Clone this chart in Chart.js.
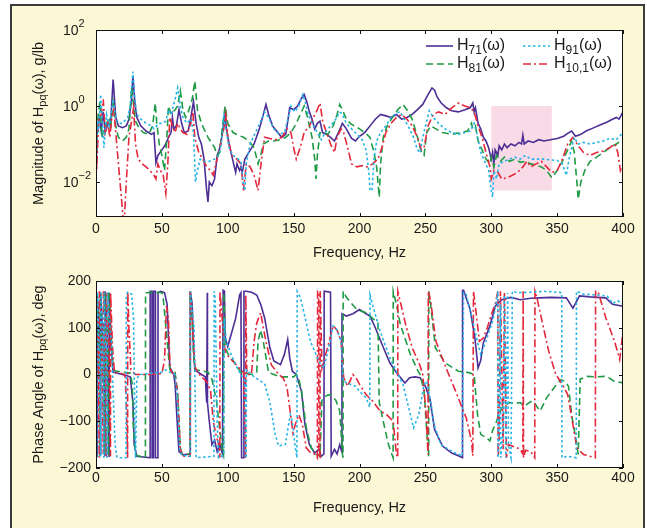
<!DOCTYPE html>
<html>
<head>
<meta charset="utf-8">
<script src="https://cdn.jsdelivr.net/npm/chart.js@4.4.1/dist/chart.umd.min.js"></script>
<style>
  html, body { margin: 0; padding: 0; background: #fff; width: 647px; height: 528px; overflow: hidden; }
  #panel { position: absolute; left: 10px; top: 4px; width: 631px; height: 600px; background: #fcf8d6; border: 2px solid #3c3c3c; }
  canvas { position: absolute; left: 0; }
  #mag { top: 0; }
  #phase { top: 264px; }
</style>
</head>
<body>
<div id="panel"></div>
<canvas id="mag" width="647" height="264"></canvas>
<canvas id="phase" width="647" height="264"></canvas>
<script>
Chart.defaults.font.family = "'Liberation Sans', Arial, sans-serif"
Chart.defaults.font.size = 14
Chart.defaults.color = '#1a1a1a'

// axes
const freqMin = 0
const freqMax = 400
const magMin = 0.0012
const magMax = 100
const magTicks = [0.01, 1, 100]
const phaseMin = -200
const phaseMax = 200

// highlighted band on the magnitude plot
const shadeFreq = [300, 346]
const shadeMag = [0.006, 1]

// response subscripts, in legend order: H71, H81, H91, H10,1
const seriesSubs = ['71', '81', '91', '10,1']

// magnitude, [Hz, g/lb]
const h71Mag = [[0,0.02],[1,0.3],[2.5,0.5],[4,0.22],[5.5,0.7],[7,0.2],[9,0.35],[11,0.3],[13,5.0],[15,0.5],[17,0.3],[20,0.27],[23,0.3],[25,0.45],[27,1.5],[28,6.0],[29.5,1.2],[31,0.5],[34,0.3],[38,0.22],[42,0.18],[44,0.2],[45.5,0.032],[47,0.05],[50,0.07],[53,0.1],[55,0.15],[57,0.2],[58,0.5],[59,0.25],[61,0.3],[63,0.8],[65,0.35],[67,0.2],[70,0.22],[72,0.5],[74,1.3],[76,0.35],[78,0.15],[80,0.1],[82,0.04],[84,0.006],[85,0.003],[86,0.01],[88,0.008],[90,0.012],[92,0.05],[94,0.08],[96,0.2],[98,0.6],[99,0.25],[101,0.1],[103,0.05],[105,0.025],[106,0.018],[107,0.03],[109,0.02],[110,0.025],[111,0.018],[113,0.04],[116,0.06],[120,0.1],[124,0.25],[127,0.6],[129,1.1],[131,0.6],[134,0.3],[138,0.2],[141,0.15],[144,0.18],[146,0.5],[147,0.9],[150,0.8],[153,1.0],[156,1.6],[158,2.0],[160,1.3],[162,0.7],[164,0.45],[166,0.25],[168,0.35],[170,0.4],[172,0.2],[175,0.18],[178,0.15],[181,0.12],[184,0.2],[187,0.35],[190,0.25],[194,0.14],[197,0.12],[200,0.16],[204,0.2],[208,0.3],[212,0.45],[216,0.6],[220,0.55],[224,0.5],[228,0.6],[232,0.45],[236,0.5],[240,0.6],[244,0.8],[248,1.1],[252,2.0],[255,3.0],[257,2.6],[259,1.7],[262,1.2],[266,0.9],[270,0.75],[275,0.7],[280,0.8],[284,0.9],[286,1.2],[287,0.7],[288,0.9],[290,0.35],[292,0.25],[294,0.15],[296,0.12],[298,0.08],[300,0.04],[301,0.06],[302,0.03],[303,0.07],[305,0.05],[306,0.09],[308,0.07],[310,0.1],[312,0.08],[315,0.1],[318,0.09],[321,0.11],[323,0.1],[324,0.17],[325,0.1],[328,0.12],[332,0.11],[336,0.13],[340,0.12],[345,0.13],[350,0.14],[355,0.16],[358,0.19],[361,0.22],[364,0.16],[368,0.18],[372,0.22],[378,0.27],[383,0.32],[388,0.38],[392,0.45],[395,0.5],[397,0.45],[400,0.7]]
const h81Mag = [[0,0.015],[1,0.3],[2,0.8],[3,1.3],[4.5,0.15],[6,0.25],[8,0.35],[10,0.5],[11,0.25],[13,1.2],[15,0.3],[17,0.15],[20,0.12],[23,0.15],[25,0.25],[27,3.0],[28,1.5],[30,0.4],[33,0.25],[36,0.2],[40,0.18],[43,0.3],[45,1.2],[46,0.4],[48,0.1],[50,0.05],[52,0.02],[54,0.2],[55,1.0],[57,0.6],[60,0.8],[62,1.0],[64,2.5],[66,0.8],[68,0.5],[70,0.7],[73,1.5],[75,4.5],[77,0.8],[80,0.35],[85,0.15],[90,0.08],[92,0.05],[94,0.06],[96,0.3],[98,1.0],[100,0.35],[104,0.2],[108,0.17],[112,0.15],[116,0.12],[120,0.08],[123,0.03],[125,0.05],[127,0.1],[131,0.12],[135,0.12],[140,0.13],[144,0.15],[148,0.2],[152,0.35],[156,0.7],[158,1.0],[160,0.6],[162,0.3],[164,0.15],[166,0.04],[167,0.012],[168,0.05],[170,0.2],[173,0.2],[176,0.18],[180,0.3],[183,0.6],[185,1.1],[187,0.8],[190,0.45],[193,0.35],[196,0.3],[200,0.25],[204,0.2],[208,0.15],[211,0.06],[213,0.025],[215,0.004],[216,0.03],[218,0.15],[221,0.3],[225,0.5],[229,0.8],[233,1.1],[236,0.8],[240,0.45],[244,0.15],[247,0.06],[249,0.05],[251,0.2],[254,0.3],[258,0.25],[263,0.2],[270,0.18],[277,0.2],[282,0.22],[285,0.35],[286,0.25],[288,0.3],[290,0.12],[293,0.07],[296,0.04],[299,0.03],[300,0.045],[302,0.025],[304,0.05],[307,0.035],[310,0.045],[314,0.035],[318,0.04],[322,0.033],[326,0.035],[330,0.03],[334,0.028],[338,0.025],[342,0.02],[346,0.013],[350,0.02],[354,0.035],[358,0.07],[361,0.12],[363,0.06],[365,0.01],[366,0.0035],[368,0.01],[371,0.02],[375,0.035],[380,0.045],[385,0.06],[390,0.08],[395,0.1],[400,0.13]]
const h91Mag = [[0,0.015],[1,0.4],[2,0.2],[3.5,2.0],[5,0.3],[6,0.08],[8,0.6],[10,0.3],[12,0.8],[13,1.5],[15,0.5],[17,0.35],[20,0.35],[24,0.5],[26,1.0],[28,8.0],[29.5,1.5],[31,0.6],[34,0.45],[38,0.35],[42,0.3],[44,0.25],[46,0.3],[48,0.35],[50,0.35],[53,0.4],[55,0.8],[57,0.6],[60,1.5],[62,3.0],[64,1.0],[66,0.5],[69,0.35],[72,0.45],[74,0.2],[75.5,0.01],[77,0.02],[79,0.04],[82,0.035],[86,0.035],[90,0.04],[93,0.05],[95,0.1],[97,0.5],[99,0.2],[101,0.08],[104,0.05],[108,0.04],[110,0.035],[112,0.008],[113,0.006],[114,0.03],[117,0.1],[121,0.2],[125,0.4],[128,0.7],[131,0.5],[135,0.25],[139,0.18],[143,0.2],[146,0.5],[148,1.0],[151,0.7],[154,1.0],[157,2.0],[159,1.2],[161,0.6],[164,0.35],[168,0.2],[171,0.13],[174,0.2],[178,0.3],[182,0.45],[185,0.7],[187,0.6],[190,0.35],[194,0.25],[198,0.18],[202,0.13],[205,0.07],[207,0.02],[208,0.006],[209.5,0.006],[211,0.04],[213,0.12],[216,0.2],[220,0.3],[224,0.5],[228,0.65],[231,0.7],[234,0.45],[238,0.25],[241,0.15],[244,0.07],[246,0.06],[248,0.15],[251,0.4],[253,0.75],[256,0.5],[260,0.35],[265,0.25],[270,0.2],[275,0.18],[280,0.2],[284,0.22],[287,0.35],[289,0.2],[292,0.06],[295,0.035],[298,0.02],[300,0.006],[301,0.004],[302,0.02],[304,0.012],[306,0.03],[310,0.035],[314,0.04],[318,0.045],[322,0.04],[326,0.05],[330,0.04],[335,0.04],[340,0.04],[345,0.038],[350,0.037],[354,0.03],[357,0.015],[359,0.04],[361,0.08],[363,0.15],[366,0.1],[370,0.11],[375,0.1],[380,0.11],[385,0.12],[390,0.14],[395,0.13],[400,0.2]]
const h101Mag = [[0,4.5],[0.5,0.02],[2,0.4],[4,0.6],[5.5,1.5],[7,0.2],[9,0.35],[10.5,0.15],[12,0.5],[13.5,0.8],[15,0.2],[17,0.03],[19,0.005],[20.5,0.0012],[21.5,0.001],[23,0.01],[25,0.15],[27,0.4],[28.5,0.9],[30,0.1],[32,0.04],[35,0.03],[38,0.025],[41,0.02],[44,0.015],[45.5,0.012],[47,0.03],[49,0.02],[51,0.015],[53,0.005],[54.5,0.03],[56,0.5],[58,0.3],[60,0.2],[62,0.35],[64,0.25],[66,0.2],[69,0.18],[72,0.35],[73.5,0.7],[75,0.15],[78,0.06],[81,0.04],[84,0.025],[87,0.02],[89,0.015],[91,0.03],[94,0.08],[97,0.25],[98.5,0.6],[100,0.15],[103,0.05],[107,0.04],[110,0.03],[112,0.006],[114,0.03],[117,0.025],[120,0.015],[123,0.006],[126,0.05],[128,0.15],[132,0.14],[137,0.13],[141,0.15],[145,0.25],[148,0.2],[150,0.08],[152,0.04],[155,0.08],[158,0.2],[162,0.3],[165,0.5],[168,0.8],[170,1.2],[172,0.4],[175,0.2],[178,0.1],[181,0.06],[183,0.15],[186,0.25],[188,0.2],[191,0.08],[194,0.03],[198,0.025],[202,0.027],[206,0.025],[210,0.03],[214,0.04],[217,0.08],[220,0.2],[224,0.35],[228,0.5],[232,0.6],[236,0.45],[240,0.3],[244,0.15],[247,0.07],[249,0.08],[252,0.3],[256,0.6],[260,0.7],[265,0.6],[270,0.9],[275,1.2],[280,1.0],[284,0.9],[287,0.7],[290,0.3],[293,0.15],[296,0.06],[299,0.025],[300,0.012],[302,0.02],[305,0.018],[308,0.012],[312,0.013],[316,0.015],[320,0.018],[324,0.025],[327,0.035],[330,0.025],[334,0.03],[338,0.035],[342,0.025],[346,0.018],[350,0.02],[354,0.04],[358,0.1],[362,0.15],[366,0.09],[370,0.06],[375,0.05],[380,0.06],[385,0.065],[390,0.08],[394,0.1],[396,0.06],[398,0.02],[400,0.03]]

// phase angle, [Hz, deg]
const h71Phase = [[0,170],[0.8,-175],[1,175],[2.5,80],[3.5,-170],[3.6,175],[5.5,60],[6.8,-175],[6.9,178],[8.5,90],[10,-175],[10.1,175],[11.5,60],[13,5],[20,0],[26,-5],[28,-60],[29,-150],[31,-175],[41,-178],[41.1,178],[42.5,178],[42.6,-178],[43.5,-178],[43.6,178],[45,178],[45.1,-178],[47,-178],[47.1,175],[49,178],[52,175],[54,150],[55,80],[56,15],[59,0],[60,-20],[62,-120],[63,-165],[66,-172],[71.5,-170],[71.6,178],[73,150],[74,60],[75,10],[80,0],[83,-5],[84,-60],[84.5,175],[84.6,-60],[86,-100],[88,-150],[90,-140],[92,-165],[94,-150],[96,-170],[96.5,180],[97.5,178],[98,80],[100,60],[103,90],[106,120],[109,170],[110,175],[110.5,-178],[112,-178],[112.3,178],[114,178],[118,176],[122,170],[125,150],[128,121],[132,57],[135,29],[140,21],[143,43],[145.5,75],[147,36],[149,7],[152,0],[156,-36],[158.6,-107],[162,-150],[166,-168],[169,-160],[171,-175],[173,-170],[173.2,178],[178,176],[178.5,-175],[181,-160],[183,-170],[185,-150],[186.5,-165],[186.7,130],[190,125],[195,130],[200,139],[205,130],[208,125],[212,100],[215.6,75],[220,45],[223,25],[228,4],[234.5,-18],[238,-7],[242,-5],[246,-7],[250,-25],[253.5,-53],[257,-118],[263,-153],[270,-168],[276,-175],[278,-178],[278.2,180],[279,180],[284,139],[287.7,75],[290,14],[292,30],[294,68],[299,104],[303,146],[308,160],[315,165],[322,160],[330,163],[337,164],[345,165],[357,164],[362,142],[367,168],[375,166],[387,164],[392,150],[396,148],[400,146]]
const h81Phase = [[0,-170],[0.5,175],[2,100],[3,-175],[3.1,175],[5,20],[6.5,-170],[6.6,178],[8,120],[9.5,-175],[9.6,178],[11,120],[12.5,30],[14,8],[20,5],[26,3],[27.5,-20],[28.5,-120],[30,-172],[37.5,-178],[37.6,175],[45,176],[50,175],[51,164],[54,71],[56,11],[60,5],[62,-40],[64,-157],[65.5,-171],[71.4,-170],[71.5,178],[73,120],[74,40],[75.5,10],[80,8],[85,5],[88,-10],[91.5,-57],[94,-120],[96,-165],[96.8,-172],[97,175],[98,60],[100,45],[104,30],[110,4],[118,0],[122,5],[123,71],[125,95],[127,70],[131,4],[140,-5],[150,-5],[152,0],[154,-10],[156,-36],[159.6,-114],[163.4,-157],[167,-171],[170,-175],[171.5,-55],[175,-45],[178,-43],[182,-55],[185,-78],[187,-170],[187.5,-178],[187.6,178],[190,165],[198,139],[205,132],[210,120],[214,110],[215,-60],[218,-100],[222,-150],[225.5,-178],[225.6,178],[228,150],[231,107],[238.6,43],[244,10],[246,0],[249,-36],[251,-120],[252.5,-175],[252.6,178],[254,150],[257.6,57],[265,25],[275,7],[283,4],[287,0],[289.6,-86],[292,-128],[296,-135],[299,-142],[301,-120],[304,-100],[306,-85],[308,-71],[311,-65],[314,-60],[318,-62],[322,-60],[325,-68],[327,-64],[330,-58],[332,-57],[335,-70],[337,-78],[340,-62],[342,-50],[346,-35],[349.6,-21],[353,-11],[356,-15],[358.6,-25],[361,-86],[364,-135],[366,-171],[367.5,-10],[373,-4],[380,-5],[386,-4],[390,-8],[393,-14],[400,-18]]
const h91Phase = [[0,170],[0.5,-178],[1,176],[2.5,50],[3.5,-175],[3.6,176],[5,100],[6,-178],[6.1,175],[7.5,60],[8.5,-178],[8.6,175],[10,120],[12,60],[13,-40],[14.5,-150],[16,-178],[22.8,-178],[23,170],[24,176],[27,172],[28.5,120],[29.5,-100],[30,-178],[30.5,-100],[31,-10],[33,0],[40,2],[50,5],[53,10],[56,5],[60,0],[62,-60],[63.5,-160],[65,-172],[71.5,-175],[71.7,178],[73,140],[74.5,100],[76,-178],[89.5,-175],[89.7,178],[90.5,160],[92,-100],[93,-178],[97,-172],[97.3,120],[99,70],[103,40],[107,15],[111,-5],[113,-14],[113.5,-178],[114,-178],[114.2,10],[120,-5],[125,-14],[128,-20],[132,-60],[136,-128],[138.6,-153],[143.7,-150],[146,-110],[147.5,-86],[149,-100],[151,-150],[152.5,-178],[152.7,178],[155,165],[157.6,136],[162.7,71],[168,36],[171,20],[173,14],[176,50],[180,104],[183,95],[186,71],[187.7,-14],[192,-20],[197,-25],[200,-36],[205,-50],[207.8,-70],[208,170],[210.5,143],[215.6,93],[223,36],[228,7],[233,-21],[238.6,-86],[241,-114],[245,-86],[249,-21],[251,-14],[254,-57],[256.6,-107],[261.7,-150],[271.8,-167],[278,-174],[279,175],[281,171],[286,114],[290,64],[292,43],[296,71],[301,114],[303,140],[305,178],[305.2,-178],[306,-100],[307,150],[307.2,-178],[309,-120],[310,170],[311,-178],[312.5,175],[313,-150],[315,-178],[316,178],[320,175],[330,176],[340,178],[350,176],[353.5,175],[353.7,-178],[358,-175],[364.5,-178],[364.7,178],[370,172],[380,170],[388,168],[392,152],[396,158],[400,150]]
const h101Phase = [[0,-175],[0.3,178],[1.5,80],[2.5,-178],[2.6,178],[4.5,60],[5.5,-170],[5.6,178],[7,100],[8,-178],[8.1,175],[9.5,120],[11,-175],[11.1,175],[12.5,60],[14,5],[18,3],[22,0],[23,-60],[24,-178],[24.1,178],[25,100],[26.5,10],[30,0],[40,0],[50,2],[52,30],[53.5,146],[55,120],[56,30],[57,5],[60,0],[62,-40],[64,-160],[66,-175],[71.5,-175],[71.6,178],[73,120],[75,20],[76,10],[80,-5],[84,-15],[87,-36],[89,-100],[91,-128],[93,-150],[94,-178],[94.1,178],[96,110],[98,50],[100,40],[105,25],[110,10],[112,5],[113.5,-178],[113.7,170],[114.5,0],[118,0],[120,71],[122,110],[125,132],[127,100],[129,71],[133,21],[138.6,0],[142,-7],[145,-28],[148,-93],[149.5,-125],[152,-100],[154,-86],[156.6,-107],[159.6,-157],[163,-168],[166.6,-171],[168,-178],[168.2,178],[169,178],[169.2,-178],[170,-178],[170.2,178],[171.5,14],[176,60],[180,104],[183,95],[186,71],[188,-7],[191,-25],[195,0],[198,-10],[200,-21],[205,-43],[210,-57],[215.6,-78],[220.6,-86],[225.6,-100],[228,-171],[229,-178],[229.1,178],[235,107],[240,57],[245.7,21],[248,0],[250.6,-86],[252,-171],[252.2,178],[254,157],[258,71],[265.7,14],[273,-36],[281,-93],[285,-142],[286,-174],[286.5,178],[287.5,157],[291,71],[294,78],[297,100],[301,136],[303,150],[305,178],[305.2,-178],[306,-140],[307,178],[309,-160],[310,175],[311.5,-178],[313,-150],[318,-155],[322,-160],[324,-170],[324.2,178],[324.5,-178],[326,-162],[330,-165],[333,-178],[333.2,178],[335,160],[338,121],[343.6,50],[349,0],[354,-21],[358,-43],[362,-107],[365,-157],[370,-171],[379,-178],[379.2,178],[381,178],[387,121],[393.6,71],[397.5,32],[400,93]]

// line look per response: colour, dash, draw order (lower = on top)
const lineStyles = [
  { color: '#4c2e95', dash: [], order: 4 },
  { color: '#1f9a45', dash: [7, 4], order: 3 },
  { color: '#26b4e6', dash: [2.5, 2.5], order: 1 },
  { color: '#e3283c', dash: [8, 3, 2, 3], order: 2 }
]

function lineSet(i, pairs) {
  return {
    label: 'H' + seriesSubs[i] + '(ω)',
    data: pairs.map(p => ({ x: p[0], y: p[1] })),
    borderColor: lineStyles[i].color,
    borderDash: lineStyles[i].dash,
    borderWidth: 1.6,
    pointRadius: 0,
    fill: false,
    tension: 0,
    order: lineStyles[i].order
  }
}

// text with a subscript part, e.g. H + "pq" + "(ω), g/lb"
function subText(ctx, x, y, head, sub, tail, size, subSize, drop) {
  ctx.font = size + "px 'Liberation Sans', Arial, sans-serif"
  ctx.fillText(head, x, y)
  x += ctx.measureText(head).width
  ctx.font = subSize + "px 'Liberation Sans', Arial, sans-serif"
  ctx.fillText(sub, x, y + drop)
  x += ctx.measureText(sub).width
  ctx.font = size + "px 'Liberation Sans', Arial, sans-serif"
  ctx.fillText(tail, x, y)
  return x + ctx.measureText(tail).width
}

function subTextWidth(ctx, head, sub, tail, size, subSize) {
  ctx.font = size + "px 'Liberation Sans', Arial, sans-serif"
  let w = ctx.measureText(head).width + ctx.measureText(tail).width
  ctx.font = subSize + "px 'Liberation Sans', Arial, sans-serif"
  return w + ctx.measureText(sub).width
}

function yTitle(chart, head, tail) {
  const ctx = chart.ctx
  const { top, bottom } = chart.chartArea
  const w = subTextWidth(ctx, head, 'pq', tail, 14.5, 11)
  ctx.save()
  ctx.translate(39, (top + bottom) / 2)
  ctx.rotate(-Math.PI / 2)
  ctx.fillStyle = '#1a1a1a'
  ctx.textBaseline = 'middle'
  ctx.textAlign = 'left'
  subText(ctx, -w / 2, 0, head, 'pq', tail, 14.5, 11, 4)
  ctx.restore()
}

// white plot box, outline and inward tick marks
function frame(yValues) {
  return {
    id: 'frame',
    beforeDatasetsDraw(chart) {
      const { ctx, chartArea: a } = chart
      ctx.save()
      ctx.fillStyle = '#fff'
      ctx.fillRect(a.left, a.top, a.right - a.left, a.bottom - a.top)
      ctx.restore()
    },
    afterDatasetsDraw(chart) {
      const { ctx, chartArea: a, scales } = chart
      ctx.save()
      ctx.strokeStyle = '#111'
      ctx.lineWidth = 1
      ctx.strokeRect(a.left + 0.5, a.top + 0.5, a.right - a.left - 1, a.bottom - a.top - 1)
      ctx.beginPath()
      scales.x.ticks.forEach(t => {
        const px = Math.round(scales.x.getPixelForValue(t.value)) + 0.5
        ctx.moveTo(px, a.bottom); ctx.lineTo(px, a.bottom - 4)
        ctx.moveTo(px, a.top); ctx.lineTo(px, a.top + 4)
      })
      yValues(chart).forEach(v => {
        const py = Math.round(scales.y.getPixelForValue(v)) + 0.5
        ctx.moveTo(a.left, py); ctx.lineTo(a.left + 4, py)
        ctx.moveTo(a.right, py); ctx.lineTo(a.right - 4, py)
      })
      ctx.stroke()
      ctx.restore()
    }
  }
}

const shade = {
  id: 'shade',
  beforeDatasetsDraw(chart) {
    const { ctx, scales } = chart
    const x1 = scales.x.getPixelForValue(shadeFreq[0])
    const x2 = scales.x.getPixelForValue(shadeFreq[1])
    const y1 = scales.y.getPixelForValue(shadeMag[1])
    const y2 = scales.y.getPixelForValue(shadeMag[0])
    ctx.save()
    ctx.fillStyle = '#f8dbe6'
    ctx.fillRect(x1, y1, x2 - x1, y2 - y1)
    ctx.restore()
  }
}

// log axis labels as 10 with a raised exponent
const powerLabels = {
  id: 'powerLabels',
  afterDraw(chart) {
    const ctx = chart.ctx
    ctx.save()
    ctx.fillStyle = '#1a1a1a'
    ctx.textBaseline = 'middle'
    ctx.textAlign = 'left'
    magTicks.forEach(v => {
      const py = chart.scales.y.getPixelForValue(v)
      const e = Math.round(Math.log10(v))
      ctx.font = "14px 'Liberation Sans', Arial, sans-serif"
      ctx.fillText('10', 63, py + 1)
      const w = ctx.measureText('10').width
      ctx.font = "11px 'Liberation Sans', Arial, sans-serif"
      ctx.fillText(String(e).replace('-', '−'), 63 + w, py - 6)
    })
    ctx.restore()
  }
}

const magLegend = {
  id: 'magLegend',
  afterDraw(chart) {
    const ctx = chart.ctx
    const cols = [426, 523]
    const rows = [46, 64]
    const place = [[0, 0], [0, 1], [1, 0], [1, 1]]
    ctx.save()
    seriesSubs.forEach((sub, i) => {
      const x = cols[place[i][0]]
      const y = rows[place[i][1]]
      ctx.strokeStyle = lineStyles[i].color
      ctx.lineWidth = 1.6
      ctx.setLineDash(lineStyles[i].dash)
      ctx.beginPath()
      ctx.moveTo(x, y)
      ctx.lineTo(x + 27, y)
      ctx.stroke()
      ctx.fillStyle = '#1a1a1a'
      ctx.textBaseline = 'middle'
      ctx.textAlign = 'left'
      subText(ctx, x + 31, y, 'H', sub, '(ω)', 16, 12, 5)
    })
    ctx.restore()
  }
}

const magTitle = { id: 'magTitle', afterDraw(chart) { yTitle(chart, 'Magnitude of H', '(ω), g/lb') } }
const phaseTitle = { id: 'phaseTitle', afterDraw(chart) { yTitle(chart, 'Phase Angle of H', '(ω), deg') } }

function freqAxis(height, pad, titlePad) {
  return {
    type: 'linear',
    min: freqMin,
    max: freqMax,
    grid: { display: false, drawTicks: false },
    border: { display: false },
    ticks: { stepSize: 50, padding: pad, maxRotation: 0, autoSkip: false },
    title: { display: true, text: 'Frequency, Hz', font: { size: 14.5 }, padding: { top: 0, bottom: titlePad } },
    afterFit(s) { s.height = height; s.paddingLeft = 0; s.paddingRight = 0 }
  }
}

const magChart = new Chart(document.getElementById('mag'), {
  type: 'line',
  data: { datasets: [lineSet(0, h71Mag), lineSet(1, h81Mag), lineSet(2, h91Mag), lineSet(3, h101Mag)] },
  options: {
    responsive: false,
    animation: false,
    devicePixelRatio: 1,
    layout: { padding: { left: 0, right: 24, top: 30, bottom: 0 } },
    plugins: { legend: { display: false }, tooltip: { enabled: false } },
    scales: {
      x: freqAxis(47, 4, 2),
      y: {
        type: 'logarithmic',
        min: magMin,
        max: magMax,
        grid: { display: false, drawTicks: false },
        border: { display: false },
        ticks: { display: false },
        afterFit(s) { s.width = 96; s.paddingTop = 0; s.paddingBottom = 0 }
      }
    }
  },
  plugins: [frame(() => magTicks), shade, powerLabels, magLegend, magTitle]
})

const phaseChart = new Chart(document.getElementById('phase'), {
  type: 'line',
  data: { datasets: [lineSet(0, h71Phase), lineSet(1, h81Phase), lineSet(2, h91Phase), lineSet(3, h101Phase)] },
  options: {
    responsive: false,
    animation: false,
    devicePixelRatio: 1,
    layout: { padding: { left: 0, right: 24, top: 17, bottom: 0 } },
    plugins: { legend: { display: false }, tooltip: { enabled: false } },
    scales: {
      x: freqAxis(60, 2, 11),
      y: {
        type: 'linear',
        min: phaseMin,
        max: phaseMax,
        grid: { display: false, drawTicks: false },
        border: { display: false },
        ticks: { stepSize: 100, padding: 5, callback: v => String(v).replace('-', '−') },
        afterFit(s) { s.width = 96; s.paddingTop = 0; s.paddingBottom = 0 }
      }
    }
  },
  plugins: [frame(c => c.scales.y.ticks.map(t => t.value)), phaseTitle]
})
</script>
</body>
</html>
